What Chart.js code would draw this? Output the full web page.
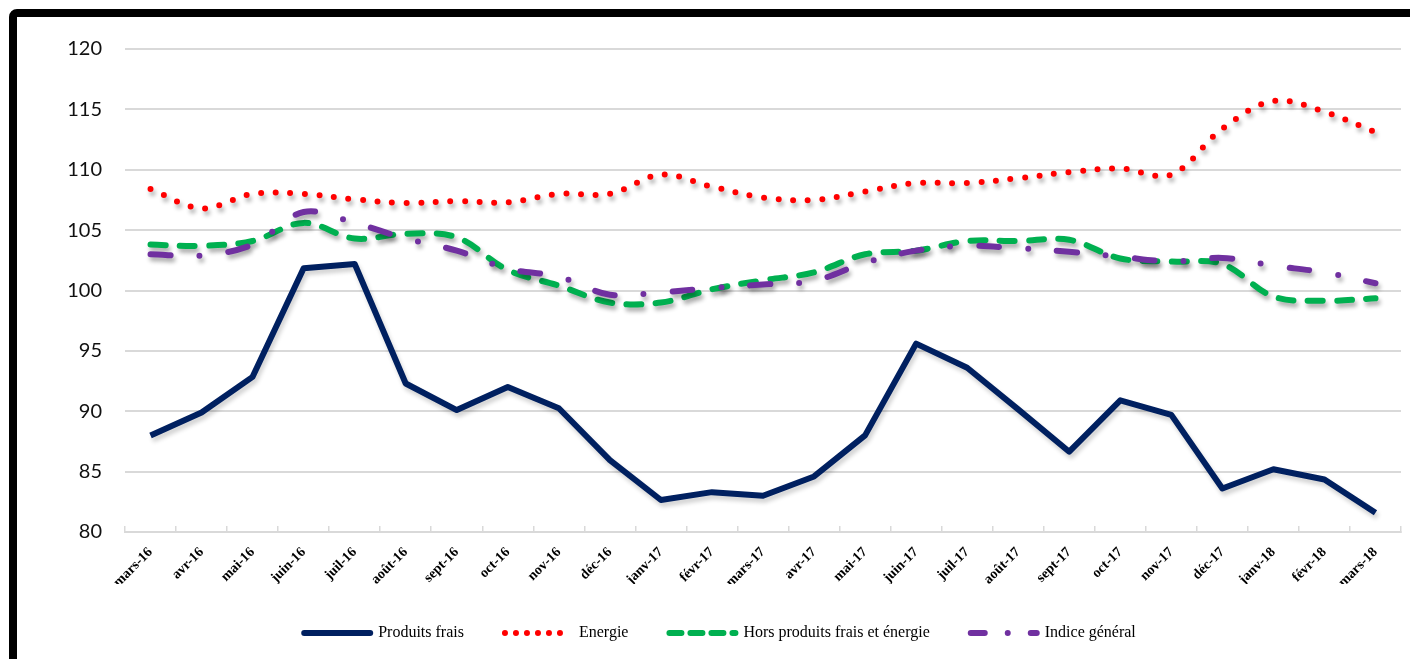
<!DOCTYPE html>
<html>
<head>
<meta charset="utf-8">
<script src="https://cdn.jsdelivr.net/npm/chart.js@4.4.1/dist/chart.umd.min.js"></script>
<style>
html,body{margin:0;padding:0;background:#fff;overflow:hidden}
#wrap{position:relative;width:1410px;height:659px;overflow:hidden}
#frame{position:absolute;left:9px;top:9px;width:1440px;height:720px;border:8px solid #000;border-radius:8px;box-sizing:border-box;pointer-events:none}
canvas{position:absolute;left:0;top:0}
</style>
</head>
<body>
<div id="wrap"><canvas id="c" width="1410" height="659"></canvas><div id="frame"></div></div>
<script>
// ---- data ----
const categories = ['mars-16','avr-16','mai-16','juin-16','juil-16','août-16','sept-16','oct-16','nov-16','déc-16',
  'janv-17','févr-17','mars-17','avr-17','mai-17','juin-17','juil-17','août-17','sept-17','oct-17','nov-17','déc-17',
  'janv-18','févr-18','mars-18'];
const produitsFrais = [88.0,89.9,92.85,101.85,102.2,92.3,90.1,92.0,90.25,85.95,82.65,83.3,83.0,84.6,88.0,95.6,93.6,90.15,86.65,90.9,89.7,83.6,85.2,84.35,81.6];
const energie = [108.4,106.8,108.0,108.0,107.55,107.25,107.4,107.3,108.0,108.0,109.6,108.6,107.7,107.5,108.2,108.9,108.9,109.3,109.8,110.1,109.6,113.4,115.7,114.8,113.1];
const horsProduits = [103.8,103.7,104.1,105.6,104.3,104.7,104.4,101.7,100.4,99.0,99.0,100.1,100.85,101.5,103.0,103.3,104.1,104.1,104.2,102.65,102.4,102.2,99.5,99.15,99.35];
const indiceGeneral = [103.0,102.9,103.8,106.5,105.6,104.3,103.3,101.8,101.15,99.65,99.85,100.2,100.5,100.8,102.3,103.3,103.7,103.5,103.2,102.8,102.4,102.7,102.05,101.5,100.6];
const seriesNames = ['Produits frais','Energie','Hors produits frais et énergie','Indice général'];
const yMin = 80, yMax = 120, yStep = 5;

// ---- styles ----
const colors = ['#002060','#FF0000','#00B050','#7030A0'];
const lineDashes = [[], [0,14.6], [15,14.3], [20,29,0,29]];
const legendDash = [
  {dash: [], offset: 0},
  {dash: [0,11], offset: 0},
  {dash: [12,9], offset: 0},
  {dash: [14,23,0,23], offset: 0}
];

const shadowPlugin = {
  id: 'shadow',
  beforeDatasetDraw(chart, args) {
    const ctx = chart.ctx;
    ctx.save();
    ctx.shadowColor = args.index === 0 ? 'rgba(0,0,0,0.18)' : 'rgba(0,0,0,0.32)';
    ctx.shadowBlur = 4;
    ctx.shadowOffsetX = 2;
    ctx.shadowOffsetY = 4;
  },
  afterDatasetDraw(chart) { chart.ctx.restore(); }
};
const legendShift = {
  id: 'legendShift',
  afterLayout(chart) { if (chart.legend) { chart.legend.left += 11; chart.legend.right += 11; } }
};

const dataSeries = [produitsFrais, energie, horsProduits, indiceGeneral];
const datasets = dataSeries.map((d, i) => ({
  label: seriesNames[i],
  data: d,
  borderColor: colors[i],
  backgroundColor: colors[i],
  borderWidth: 6,
  borderDash: lineDashes[i],
  borderCapStyle: i === 0 ? 'butt' : 'round',
  borderJoinStyle: 'round',
  tension: i === 0 ? 0 : 0.35,
  pointRadius: 0,
  fill: false,
  order: 4 - i
}));

new Chart(document.getElementById('c'), {
  type: 'line',
  data: { labels: categories, datasets },
  plugins: [shadowPlugin, legendShift],
  options: {
    responsive: false,
    devicePixelRatio: 1,
    animation: false,
    layout: { padding: { left: 17, right: 9, top: 49, bottom: 8 } },
    plugins: {
      tooltip: { enabled: false },
      legend: {
        position: 'bottom',
        align: 'center',
        labels: {
          usePointStyle: true,
          pointStyle: 'line',
          pointStyleWidth: 66,
          padding: 41,
          color: '#000',
          font: { family: 'Liberation Serif', size: 16 },
          sort: (a, b) => a.datasetIndex - b.datasetIndex,
          generateLabels(chart) {
            const items = Chart.defaults.plugins.legend.labels.generateLabels(chart);
            items.forEach(it => {
              const s = legendDash[it.datasetIndex];
              it.lineDash = s.dash;
              it.lineDashOffset = s.offset;
              it.lineCap = 'round';
              it.lineWidth = 6;
              it.strokeStyle = colors[it.datasetIndex];
              it.fillStyle = colors[it.datasetIndex];
              it.pointStyle = 'line';
            });
            return items;
          }
        }
      }
    },
    scales: {
      x: {
        type: 'category',
        offset: true,
        afterFit(s) { s.height = 52; },
        grid: { offset: true, drawOnChartArea: false, drawTicks: true, tickLength: -6, color: '#d9d9d9', lineWidth: 1.5 },
        border: { display: true, color: '#d9d9d9', width: 2 },
        ticks: {
          autoSkip: false, maxRotation: 45, minRotation: 45, padding: 18,
          color: '#000',
          font: { family: 'Liberation Serif', size: 14, weight: 'bold' }
        }
      },
      y: {
        min: yMin, max: yMax,
        afterFit(s) { s.width = 108; },
        grid: { color: '#d9d9d9', lineWidth: 2, drawTicks: false },
        border: { display: false },
        ticks: {
          stepSize: yStep, padding: 23, color: '#111',
          font: { family: 'Lato', size: 20 }
        }
      }
    }
  }
});
</script>
</body>
</html>
